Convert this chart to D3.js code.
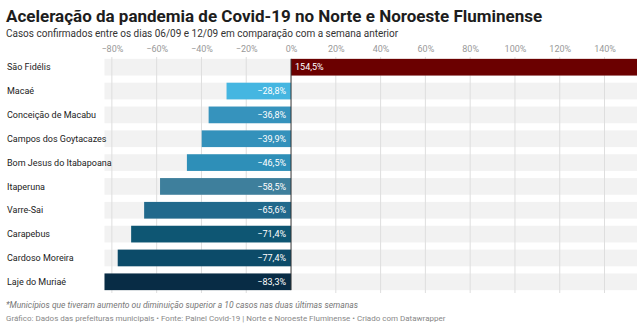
<!DOCTYPE html>
<html><head><meta charset="utf-8">
<script src="https://cdn.jsdelivr.net/npm/d3@7"></script>
<style>
body{margin:0;background:#fff;font-family:Roboto,"Noto Sans",sans-serif;}
svg{display:block}
</style></head><body>
<svg id="c" width="644" height="328"></svg>
<script>
const categories = ["São Fidélis","Macaé","Conceição de Macabu","Campos dos Goytacazes","Bom Jesus do Itabapoana","Itaperuna","Varre-Sai","Carapebus","Cardoso Moreira","Laje do Muriaé"];
const values = [154.5,-28.8,-36.8,-39.9,-46.5,-58.5,-65.6,-71.4,-77.4,-83.3];
const colors = ["#6b0000","#45b6e1","#3693bd","#3391bb","#2e8fb8","#3e7f9c","#21698c","#0e5673","#0c4b69","#082c45"];
const ticks = [-80,-60,-40,-20,0,20,40,60,80,100,120,140];

const svg = d3.select("#c");
const x = d3.scaleLinear().domain([-83.3,154.5]).range([104.5,637]);
const y = d3.scaleBand().domain(categories).range([56,293]).paddingInner(0.3).paddingOuter(0.12);
const fmt = v => (v<0?"\u2212":"") + Math.abs(v).toFixed(1).replace(".",",") + "%";

svg.append("text").attr("x",6).attr("y",22).attr("font-size",17).attr("font-weight",700).attr("fill","#1d1d1d").text("Aceleração da pandemia de Covid-19 no Norte e Noroeste Fluminense");
svg.append("text").attr("x",6).attr("y",37).attr("font-size",10).attr("fill","#333").text("Casos confirmados entre os dias 06/09 e 12/09 em comparação com a semana anterior");

// background bands
svg.append("g").selectAll("rect").data(categories).join("rect")
  .attr("x",x.range()[0]).attr("width",x.range()[1]-x.range()[0])
  .attr("y",d=>y(d)).attr("height",y.bandwidth()).attr("fill","#f2f2f2");

// grid
const ax = d3.axisTop(x).tickValues(ticks).tickSize(0).tickFormat(d=>(d<0?"\u2212":"")+Math.abs(d)+"%");
const g = svg.append("g").attr("transform","translate(0,56)").call(ax);
g.select(".domain").remove();
g.selectAll("text").attr("font-size",9).attr("fill","#999").attr("dy","-0.15em").attr("font-family","Roboto,sans-serif");
svg.append("g").selectAll("line").data(ticks.filter(t=>t!==0)).join("line")
  .attr("x1",d=>x(d)).attr("x2",d=>x(d)).attr("y1",57).attr("y2",293)
  .attr("stroke","#dedede").attr("stroke-width",1);

// bars
svg.append("g").selectAll("rect").data(values).join("rect")
  .attr("x",d=>x(Math.min(0,d))).attr("width",d=>Math.abs(x(d)-x(0)))
  .attr("y",(d,i)=>y(categories[i])).attr("height",y.bandwidth())
  .attr("fill",(d,i)=>colors[i]);

// zero line
svg.append("line").attr("x1",x(0)).attr("x2",x(0)).attr("y1",y(categories[0])).attr("y2",y(categories[categories.length-1])+y.bandwidth())
  .attr("stroke","#333").attr("stroke-width",1);

// value labels
svg.append("g").selectAll("text").data(values).join("text")
  .attr("x",d=>d<0?x(0)-5:x(0)+4).attr("text-anchor",d=>d<0?"end":"start")
  .attr("y",(d,i)=>y(categories[i])+y.bandwidth()/2).attr("dy","0.35em")
  .attr("font-size",9).attr("fill","#fff").text(fmt);

// category labels
svg.append("g").selectAll("text").data(categories).join("text")
  .attr("x",7).attr("y",d=>y(d)+y.bandwidth()/2).attr("dy","0.35em")
  .attr("font-size",9).attr("fill","#222").text(d=>d);

svg.append("text").attr("x",6).attr("y",308).attr("font-size",8.5).attr("font-style","italic").attr("fill","#777").text("*Municípios que tiveram aumento ou diminuição superior a 10 casos nas duas últimas semanas");
svg.append("text").attr("x",6).attr("y",321).attr("font-size",8).attr("fill","#888").text("Gráfico: Dados das prefeituras municipais • Fonte: Painel Covid-19 | Norte e Noroeste Fluminense • Criado com Datawrapper");
</script>
</body></html>
